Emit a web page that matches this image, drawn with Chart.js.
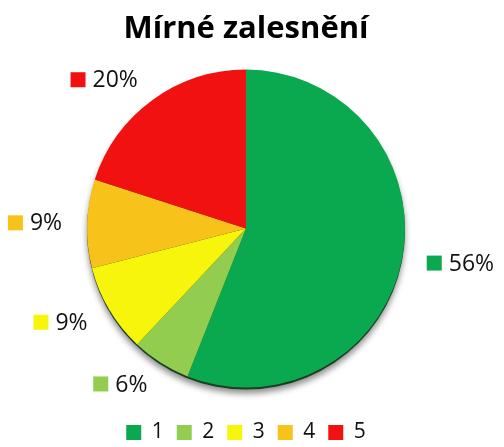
<!DOCTYPE html>
<html>
<head>
	<meta charset="utf-8">
	<title>Mírné zalesnění</title>
	<script src="https://cdn.jsdelivr.net/npm/chart.js"></script>
	<style>
		html, body { margin: 0; padding: 0; background: #fff; }
		#box { width: 504px; height: 447px; }
	</style>
</head>
<body>
	<div id="box"><canvas id="graf"></canvas></div>
	<script>
		// data
		var kategorie = ['1', '2', '3', '4', '5'];
		var hodnoty = [56, 6, 9, 9, 20];
		var barvy = ['#0aa84f', '#92cd50', '#f7f50c', '#f7c21a', '#f21111'];

		// stin pod kolacem
		var stin = {
			id: 'stin',
			beforeDatasetsDraw: function (chart) {
				var arc = chart.getDatasetMeta(0).data[0];
				if (!arc) return;
				var ctx = chart.ctx;
				ctx.save();
				ctx.shadowColor = 'rgba(0,0,0,0.45)';
				ctx.shadowBlur = 6;
				ctx.shadowOffsetY = 4;
				ctx.fillStyle = '#1b3d20';
				ctx.beginPath();
				ctx.arc(arc.x, arc.y + 2, arc.outerRadius, 0, Math.PI * 2);
				ctx.fill();
				ctx.restore();
			}
		};

		// popisky s ctverecky kolem kolace
		var popisky = {
			id: 'popisky',
			afterDatasetsDraw: function (chart) {
				var ctx = chart.ctx;
				var meta = chart.getDatasetMeta(0);
				ctx.save();
				ctx.font = '23px "Open Sans", "Noto Sans", sans-serif';
				ctx.textBaseline = 'middle';
				meta.data.forEach(function (arc, i) {
					var p = arc.getProps(['x', 'y', 'startAngle', 'endAngle', 'outerRadius'], true);
					var mid = (p.startAngle + p.endAngle) / 2;
					var r = p.outerRadius + 25;
					var ax = p.x + Math.cos(mid) * r;
					var ay = p.y + Math.sin(mid) * r;
					var txt = hodnoty[i] + '%';
					var tw = ctx.measureText(txt).width;
					var w = 15 + 7 + tw;
					var left = Math.cos(mid) >= 0 ? ax : ax - w;
					ctx.fillStyle = barvy[i];
					ctx.fillRect(left, ay - 7.5, 15, 15);
					ctx.fillStyle = '#111';
					ctx.textAlign = 'left';
					ctx.fillText(txt, left + 22, ay + 1);
				});
				ctx.restore();
			}
		};

		var ctx = document.getElementById('graf').getContext('2d');
		var chart = new Chart(ctx, {
			type: 'pie',
			data: {
				labels: kategorie,
				datasets: [{
					data: hodnoty,
					backgroundColor: barvy,
					borderWidth: 0
				}]
			},
			options: {
				responsive: true,
				maintainAspectRatio: false,
				animation: false,
				radius: 159,
				layout: { padding: { left: 0, right: 12, top: 0, bottom: -6 } },
				plugins: {
					title: {
						display: true,
						text: 'Mírné zalesnění',
						color: '#000',
						font: { family: '"Open Sans", "Noto Sans", sans-serif', size: 31, weight: 'bold' },
						padding: { top: 11, bottom: 0 }
					},
					legend: {
						position: 'bottom',
						labels: {
							color: '#111',
							boxWidth: 15,
							boxHeight: 15,
							padding: 13,
							font: { family: '"Open Sans", "Noto Sans", sans-serif', size: 21 }
						}
					},
					tooltip: { enabled: false }
				}
			},
			plugins: [stin, popisky]
		});
	</script>
</body>
</html>
